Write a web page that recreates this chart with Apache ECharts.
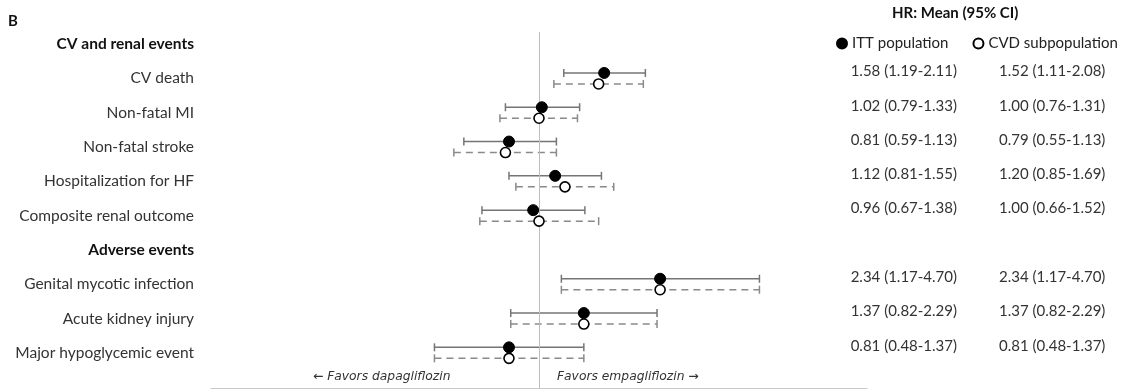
<!DOCTYPE html>
<html>
<head>
<meta charset="utf-8">
<script src="https://cdn.jsdelivr.net/npm/echarts@6/dist/echarts.min.js"></script>
<style>html,body{margin:0;padding:0;background:#fff}#c{width:1123px;height:390px}</style>
</head>
<body>
<div id="c"></div>
<script>
const categories = ['CV and renal events','CV death','Non-fatal MI','Non-fatal stroke','Hospitalization for HF','Composite renal outcome','Adverse events','Genital mycotic infection','Acute kidney injury','Major hypoglycemic event'];
const headerRows = [0, 6];
const ittMean = [null,1.58,1.02,0.81,1.12,0.96,null,2.34,1.37,0.81];
const ittLow  = [null,1.19,0.79,0.59,0.81,0.67,null,1.17,0.82,0.48];
const ittHigh = [null,2.11,1.33,1.13,1.55,1.38,null,4.70,2.29,1.37];
const cvdMean = [null,1.52,1.00,0.79,1.20,1.00,null,2.34,1.37,0.81];
const cvdLow  = [null,1.11,0.76,0.55,0.85,0.66,null,1.17,0.82,0.48];
const cvdHigh = [null,2.08,1.31,1.13,1.69,1.52,null,4.70,2.29,1.37];
const seriesNames = ['ITT population','CVD subpopulation'];
const refValue = 1;
const xRange = [0.1, 10];

const FONT = 'Lato';
const fmt = (m,l,h) => m == null ? '' : m.toFixed(2) + ' (' + l.toFixed(2) + '-' + h.toFixed(2) + ')';
const ittText = categories.map((c,i) => fmt(ittMean[i], ittLow[i], ittHigh[i]));
const cvdText = categories.map((c,i) => fmt(cvdMean[i], cvdLow[i], cvdHigh[i]));

function ciData(low, high){
  const out = [];
  categories.forEach((c,i) => { if (low[i] != null) out.push([low[i], high[i], i]); });
  return out;
}
function ptData(mean){
  const out = [];
  categories.forEach((c,i) => { if (mean[i] != null) out.push([mean[i], i]); });
  return out;
}
function ciRender(offset, dashed){
  return function(params, api){
    const p1 = api.coord([api.value(0), api.value(2)]);
    const p2 = api.coord([api.value(1), api.value(2)]);
    const y = p1[1] + offset;
    const cap = 4;
    const st = {stroke: dashed ? '#8a8a8a' : '#757575', lineWidth: 1.5};
    return {type:'group', children:[
      {type:'line', shape:{x1:p1[0], y1:y, x2:p2[0], y2:y}, style:Object.assign({lineDash: dashed ? [7,5] : null}, st)},
      {type:'line', shape:{x1:p1[0], y1:y-cap, x2:p1[0], y2:y+cap}, style:st},
      {type:'line', shape:{x1:p2[0], y1:y-cap, x2:p2[0], y2:y+cap}, style:st}
    ]};
  };
}

const chart = echarts.init(document.getElementById('c'), null, {renderer:'canvas'});
chart.setOption({
  animation: false,
  textStyle: {fontFamily: FONT},
  title: [
    {text:'B', left:8, top:14, padding:0, textStyle:{fontFamily:FONT, fontWeight:'bold', fontSize:15, color:'#111'}},
    {text:'HR: Mean (95% CI)', left:892, top:6, padding:0, textStyle:{fontFamily:FONT, fontWeight:'bold', fontSize:15, color:'#111'}}
  ],
  legend: {
    left: 836, top: 36, padding: 0, itemGap: 24, itemWidth: 10, itemHeight: 10,
    textStyle: {fontFamily:FONT, fontSize:15, color:'#222'},
    data: seriesNames.map(n => ({name:n, icon:'circle'}))
  },
  grid: [
    {left:211, width:656, top:27, height:343},
    {left:211, width:656, top:32, height:356},
    {left:978, width:1, top:20, height:343}
  ],
  xAxis: [
    {type:'log', gridIndex:0, min:xRange[0], max:xRange[1], show:false},
    {type:'log', gridIndex:1, min:xRange[0], max:xRange[1], axisLine:{show:true, lineStyle:{color:'#c8c8c8', width:1}}, axisTick:{show:false}, axisLabel:{show:false}, splitLine:{show:false}},
    {type:'value', gridIndex:2, show:false}
  ],
  yAxis: [
    {type:'category', gridIndex:0, inverse:true, data:categories,
     axisLine:{show:false}, axisTick:{show:false}, splitLine:{show:false},
     axisLabel:{margin:17, formatter:(v,i) => headerRows.indexOf(i) >= 0 ? '{h|' + v + '}' : '{n|' + v + '}',
       rich:{h:{fontFamily:FONT, fontWeight:'bold', fontSize:15.5, color:'#111'}, n:{fontFamily:FONT, fontSize:15.5, color:'#333'}}}},
    {type:'value', gridIndex:1, min:0, max:1, show:false},
    {type:'category', gridIndex:2, inverse:true, data:categories, position:'left',
     axisLine:{show:false}, axisTick:{show:false},
     axisLabel:{margin:21, fontFamily:FONT, fontSize:15, color:'#333', formatter:(v,i) => ittText[i]}},
    {type:'category', gridIndex:2, inverse:true, data:categories, position:'right',
     axisLine:{show:false}, axisTick:{show:false},
     axisLabel:{margin:20, align:'left', fontFamily:FONT, fontSize:15, color:'#333', formatter:(v,i) => cvdText[i]}}
  ],
  series: [
    {type:'scatter', xAxisIndex:1, yAxisIndex:1, data:[[refValue, 0.5]], symbolSize:0, silent:true,
     markLine:{silent:true, symbol:'none', label:{show:false}, lineStyle:{color:'#bdbdbd', width:1, type:'solid'}, data:[{xAxis:refValue}]}},
    {type:'custom', name:'ittCI', xAxisIndex:0, yAxisIndex:0, clip:false, data:ciData(ittLow, ittHigh), renderItem:ciRender(-5.5,false), encode:{x:[0,1], y:2}, z:2},
    {type:'custom', name:'cvdCI', xAxisIndex:0, yAxisIndex:0, clip:false, data:ciData(cvdLow, cvdHigh), renderItem:ciRender(5.5,true), encode:{x:[0,1], y:2}, z:2},
    {type:'scatter', name:seriesNames[0], xAxisIndex:0, yAxisIndex:0, clip:false, data:ptData(ittMean), symbol:'circle', symbolSize:11, symbolOffset:[0,-5.5],
     itemStyle:{color:'#000', borderColor:'#000', borderWidth:1, opacity:1}, z:5},
    {type:'scatter', name:seriesNames[1], xAxisIndex:0, yAxisIndex:0, clip:false, data:ptData(cvdMean), symbol:'circle', symbolSize:10, symbolOffset:[0,5.5],
     itemStyle:{color:'#fff', borderColor:'#000', borderWidth:1.6, opacity:1}, z:5}
  ],
  graphic: [
    {type:'text', left:313, top:371, style:{text:'\u2190 Favors dapagliflozin', font:'italic 12.3px "DejaVu Sans"', fill:'#333'}},
    {type:'text', left:557, top:371, style:{text:'Favors empagliflozin \u2192', font:'italic 12.3px "DejaVu Sans"', fill:'#333'}}
  ]
});
</script>
</body>
</html>
